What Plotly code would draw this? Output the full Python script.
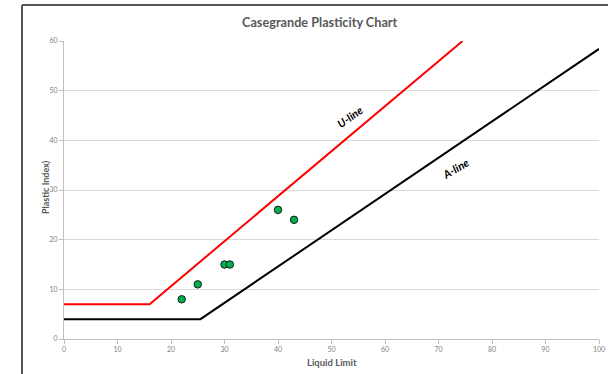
import plotly.graph_objects as go

# Data
a_line_x = [0, 25.5, 100]
a_line_y = [4, 4, 58.4]
u_line_x = [0, 16, 74.5]
u_line_y = [7, 7, 60]
ll_points = [22, 25, 30, 31, 40, 43]
pi_points = [8, 11, 15, 15, 26, 24]
x_ticks = list(range(0, 101, 10))
y_ticks = list(range(0, 61, 10))

FONT = "Lato"
W, H = 608, 374
L, R, T, B = 64, 9, 41, 35
pw, ph = W - L - R, H - T - B

def px(xp):
    return (xp - L) / pw

def py(yp):
    return (H - B - yp) / ph

fig = go.Figure()
fig.add_trace(go.Scatter(x=u_line_x, y=u_line_y, mode="lines",
                         line=dict(color="#FF0000", width=2), showlegend=False, hoverinfo="skip"))
fig.add_trace(go.Scatter(x=a_line_x, y=a_line_y, mode="lines",
                         line=dict(color="#000000", width=2), showlegend=False, hoverinfo="skip"))
fig.add_trace(go.Scatter(x=ll_points, y=pi_points, mode="markers",
                         marker=dict(color="#00B050", size=7.5, line=dict(color="#1a1a1a", width=1)),
                         showlegend=False))

fig.add_annotation(x=53.5, y=44.7, text="<b><i>U-line</i></b>", showarrow=False,
                   textangle=-36, font=dict(family=FONT, size=11, color="#000000"))
fig.add_annotation(x=73.1, y=34.4, text="<b><i>A-line</i></b>", showarrow=False,
                   textangle=-31, font=dict(family=FONT, size=11, color="#000000"))

# Title and axis titles
fig.add_annotation(xref="paper", yref="paper", x=px(320), y=py(22), text="<b>Casegrande Plasticity Chart</b>",
                   showarrow=False, xanchor="center", yanchor="middle",
                   font=dict(family=FONT, size=12.7, color="#595959"))
fig.add_annotation(xref="paper", yref="paper", x=px(332), y=py(362), text="<b>Liquid Limit</b>",
                   showarrow=False, xanchor="center", yanchor="middle",
                   font=dict(family=FONT, size=9.5, color="#595959"))
fig.add_annotation(xref="paper", yref="paper", x=px(45), y=py(187), text="<b>Plastic Index)</b>",
                   showarrow=False, xanchor="center", yanchor="middle", textangle=-90,
                   font=dict(family=FONT, size=9, color="#595959"))

# Outer frame
fig.add_shape(type="line", xref="paper", yref="paper", x0=px(22), x1=px(22), y0=py(5), y1=py(380),
              line=dict(color="#555555", width=2))
fig.add_shape(type="line", xref="paper", yref="paper", x0=px(22), x1=px(615), y0=py(5), y1=py(5),
              line=dict(color="#555555", width=2))

fig.update_xaxes(range=[0, 100], tickvals=x_ticks, showgrid=False, zeroline=False,
                 showline=True, linecolor="#bfbfbf", linewidth=1,
                 ticks="outside", ticklen=4, tickcolor="#bfbfbf",
                 tickfont=dict(family=FONT, size=7, color="#808080"))
fig.update_yaxes(range=[0, 60], tickvals=y_ticks, showgrid=True, gridcolor="#d9d9d9", gridwidth=1,
                 zeroline=False, showline=True, linecolor="#bfbfbf", linewidth=1,
                 ticks="outside", ticklen=4, tickcolor="#bfbfbf",
                 tickfont=dict(family=FONT, size=7, color="#808080"))

fig.update_layout(width=W, height=H, margin=dict(l=L, r=R, t=T, b=B, autoexpand=False),
                  paper_bgcolor="white", plot_bgcolor="white", showlegend=False)

fig.write_html("out.html", config={"displayModeBar": False},
               post_script="document.body.style.margin='0';document.body.style.overflow='hidden';")
